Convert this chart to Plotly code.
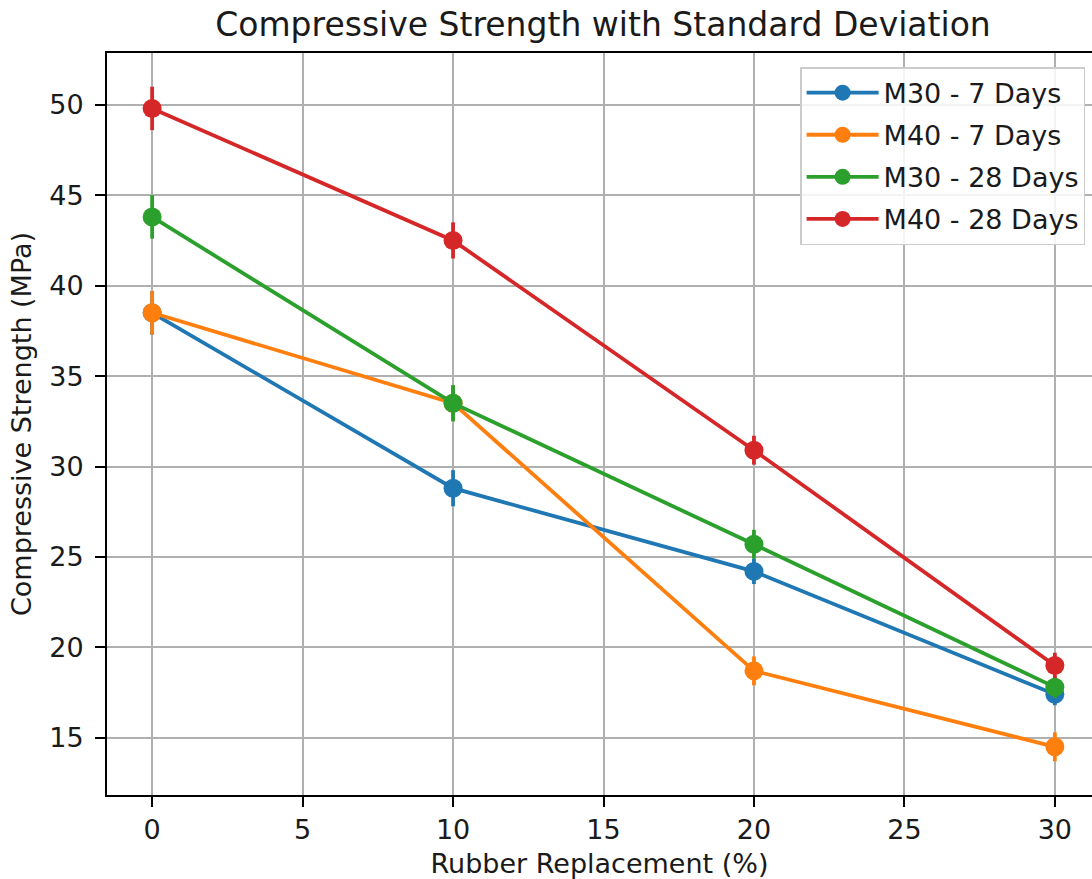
import plotly.graph_objects as go

x_vals = [0, 10, 20, 30]

series_names = ["M30 - 7 Days", "M40 - 7 Days", "M30 - 28 Days", "M40 - 28 Days"]
m30_7 = [38.5, 28.8, 24.2, 17.4]
m30_7_sd = [1.2, 1.0, 0.7, 0.6]
m40_7 = [38.5, 33.5, 18.7, 14.5]
m40_7_sd = [1.2, 1.0, 0.8, 0.8]
m30_28 = [43.8, 33.5, 25.7, 17.8]
m30_28_sd = [1.2, 1.0, 0.8, 0.6]
m40_28 = [49.8, 42.5, 30.9, 19.0]
m40_28_sd = [1.2, 1.0, 0.8, 0.7]
colors = ["#1f77b4", "#ff7f0e", "#2ca02c", "#d62728"]

x_ticks = [0, 5, 10, 15, 20, 25, 30]
y_ticks = [15, 20, 25, 30, 35, 40, 45, 50]

FONT = "DejaVu Sans"
TXT = "#1a1a1a"

all_y = [m30_7, m40_7, m30_28, m40_28]
all_sd = [m30_7_sd, m40_7_sd, m30_28_sd, m40_28_sd]

fig = go.Figure()
for name, ys, sd, c in zip(series_names, all_y, all_sd, colors):
    fig.add_trace(go.Scatter(
        x=x_vals, y=ys, name=name, mode="lines+markers", legendgroup=name,
        line=dict(color=c, width=3.8),
        marker=dict(color=c, size=19),
        error_y=dict(type="data", array=sd, visible=True, color=c, thickness=3.8, width=0),
    ))

# y-range with matplotlib-like 5% margins
lo = min(min(v - s for v, s in zip(ys, sd)) for ys, sd in zip(all_y, all_sd))
hi = max(max(v + s for v, s in zip(ys, sd)) for ys, sd in zip(all_y, all_sd))
pad = (hi - lo) * 0.05

W, H = 1092, 879
ML, MR, MT, MB = 107, 0, 53, 84
xr0 = -1.5
full = 33.0 * (W - ML - MR) / 993.0
fig.update_layout(
    width=W, height=H,
    margin=dict(l=ML, r=MR, t=MT, b=MB),
    paper_bgcolor="white", plot_bgcolor="white",
    font=dict(family=FONT, size=26, color=TXT),
    title=dict(text="Compressive Strength with Standard Deviation", x=603 / W, xanchor="center",
               y=1 - 24 / H, yanchor="middle", yref="container",
               font=dict(family=FONT, size=33, color=TXT)),
    showlegend=True,
    legend=dict(x=0.993, xanchor="right", y=0.981, yanchor="top",
                bgcolor="rgba(255,255,255,0.85)", bordercolor="#cccccc", borderwidth=1.5,
                font=dict(family=FONT, size=27, color=TXT),
                tracegroupgap=4, itemwidth=72),
    xaxis=dict(range=[xr0, xr0 + full], tickvals=x_ticks, ticktext=[str(t) for t in x_ticks],
               showgrid=True, gridcolor="#b0b0b0", gridwidth=2,
               showline=True, linecolor="black", linewidth=2, mirror=True,
               ticks="outside", ticklen=10, tickwidth=2, tickcolor="black",
               zeroline=False, automargin=False, tickfont=dict(size=27),
               title=dict(text="Rubber Replacement (%)", font=dict(family=FONT, size=27), standoff=10)),
    yaxis=dict(range=[lo - pad, hi + pad], tickvals=y_ticks, ticktext=[str(t) for t in y_ticks],
               showgrid=True, gridcolor="#b0b0b0", gridwidth=2,
               showline=True, linewidth=2, linecolor="black",
               ticks="outside", ticklen=10, tickwidth=2, tickcolor="black",
               zeroline=False, automargin=False, tickfont=dict(size=27), ticklabelstandoff=6,
               title=dict(text="Compressive Strength (MPa)", font=dict(family=FONT, size=27), standoff=10)),
)
fig.write_html("out.html", config={"displayModeBar": False},
               post_script="document.body.style.margin='0';document.body.style.overflow='hidden';")
